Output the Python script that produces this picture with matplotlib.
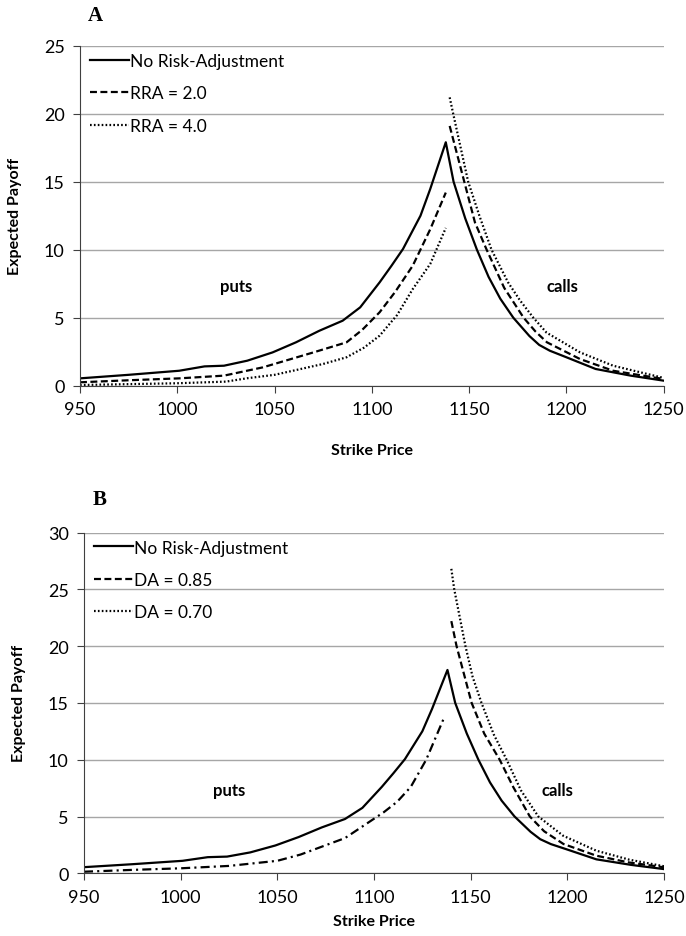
import matplotlib
matplotlib.use("Agg")
import matplotlib.pyplot as plt

plt.rcParams['font.family'] = ['Lato', 'DejaVu Sans']
plt.rcParams['lines.scale_dashes'] = False

# ---- Panel A data ----
strike_base = [950, 975, 1001, 1014, 1024, 1036, 1049, 1061, 1073, 1085, 1094, 1104, 1110, 1116, 1125, 1130, 1138,
               1142, 1148, 1154, 1160, 1166, 1172.7, 1181, 1186, 1191.5, 1200, 1215, 1233, 1250]
payoff_base = [0.54, 0.8, 1.1, 1.42, 1.47, 1.84, 2.45, 3.19, 4.04, 4.78, 5.76, 7.6, 8.8, 10.05, 12.5, 14.46, 17.9,
               15.0, 12.3, 10.0, 8.0, 6.4, 5.0, 3.65, 3.0, 2.57, 2.09, 1.23, 0.74, 0.37]

strike_puts_a = [950, 975, 1001, 1024, 1044, 1070, 1087, 1095, 1104, 1112, 1121, 1130, 1138]
rra2_puts = [0.25, 0.4, 0.54, 0.74, 1.35, 2.45, 3.19, 4.1, 5.4, 6.9, 8.82, 11.5, 14.2]
strike_puts_a4 = [950, 1000, 1025, 1036, 1050, 1061, 1075, 1087, 1096, 1104, 1113, 1121, 1130, 1138]
rra4_puts = [0.05, 0.18, 0.3, 0.55, 0.8, 1.15, 1.6, 2.09, 2.8, 3.68, 5.2, 7.1, 8.95, 11.6]

strike_calls_a2 = [1140, 1147.5, 1153, 1159, 1168, 1178, 1184, 1190, 1207, 1224, 1250]
rra2_calls = [19.1, 15.0, 12.0, 10.0, 7.2, 5.0, 4.0, 3.19, 1.96, 1.1, 0.49]
strike_calls_a4 = [1140, 1141.8, 1149.5, 1155.5, 1161.5, 1170, 1176, 1183, 1189.8, 1207, 1224, 1250]
rra4_calls = [21.2, 20.0, 15.0, 12.4, 10.0, 7.6, 6.3, 5.0, 3.9, 2.45, 1.47, 0.57]

# ---- Panel B data ----
strike_puts_b = [950, 975, 1000, 1025, 1050, 1062, 1085, 1105, 1112, 1119, 1127, 1136]
da_puts = [0.14, 0.3, 0.44, 0.65, 1.1, 1.65, 3.1, 5.37, 6.3, 7.6, 10.0, 13.6]

strike_calls_b85 = [1140, 1142.7, 1150.5, 1157, 1165, 1172, 1180.6, 1188, 1198, 1215, 1232, 1250]
da85_calls = [22.2, 20.0, 15.0, 12.3, 10.0, 7.6, 5.0, 3.7, 2.58, 1.55, 0.95, 0.53]
strike_calls_b70 = [1140, 1141.5, 1147.3, 1151, 1155.6, 1162, 1168.6, 1176, 1185, 1197.8, 1215, 1232, 1250]
da70_calls = [26.8, 25.0, 20.0, 17.3, 15.0, 12.2, 10.0, 7.3, 5.0, 3.31, 1.99, 1.2, 0.62]

x_ticks = [950, 1000, 1050, 1100, 1150, 1200, 1250]

fig = plt.figure(figsize=(6.86, 9.37), dpi=100)

lw = 1.6
dash = (0, (5.0, 2.5))
dot = (0, (1.2, 1.6))
dashdot = (0, (6.5, 3.0, 1.5, 3.0))

def style_axes(ax, ymax, ystep):
    ax.set_xlim(950, 1250)
    ax.set_ylim(0, ymax)
    ax.set_xticks(x_ticks)
    ax.set_yticks(list(range(0, ymax + 1, ystep)))
    ax.yaxis.grid(True, color='#a6a6a6', lw=1.0)
    ax.set_axisbelow(True)
    for s in ['top', 'right']:
        ax.spines[s].set_visible(False)
    ax.spines['left'].set_color('#404040')
    ax.spines['bottom'].set_color('#404040')
    ax.tick_params(axis='both', labelsize=13, direction='out', length=5, color='#404040', pad=6)
    ax.set_ylabel('Expected Payoff', fontsize=11.5, fontweight='bold', labelpad=16)
    ax.set_xlabel('Strike Price', fontsize=11.5, fontweight='bold')

def add_legend(ax):
    ax.legend(loc='upper left', bbox_to_anchor=(0.0, 1.01), frameon=False, fontsize=12.5,
              handlelength=2.2, handletextpad=0.1, labelspacing=0.95, borderaxespad=0.3,
              borderpad=0.3)

# Panel A
axA = fig.add_axes([80 / 686, 1 - 386.7 / 937, (663.7 - 80) / 686, (386.7 - 46.7) / 937])
style_axes(axA, 25, 5)
axA.plot(strike_base, payoff_base, color='black', lw=lw, label='No Risk-Adjustment')
axA.plot(strike_puts_a, rra2_puts, color='black', lw=lw, linestyle=dash, label='RRA = 2.0')
axA.plot(strike_calls_a2, rra2_calls, color='black', lw=lw, linestyle=dash)
axA.plot(strike_puts_a4, rra4_puts, color='black', lw=lw, linestyle=dot, label='RRA = 4.0')
axA.plot(strike_calls_a4, rra4_calls, color='black', lw=lw, linestyle=dot)
axA.text(1030, 7.3, 'puts', fontsize=12, fontweight='bold', ha='center', va='center')
axA.text(1198, 7.3, 'calls', fontsize=12, fontweight='bold', ha='center', va='center')
axA.xaxis.labelpad = 19
add_legend(axA)
fig.text(95 / 686, 1 - 16 / 937, 'A', fontsize=15, fontweight='bold', family='Liberation Serif',
         ha='center', va='center')

# Panel B
axB = fig.add_axes([84 / 686, 1 - 874.3 / 937, (664 - 84) / 686, (874.3 - 533.5) / 937])
style_axes(axB, 30, 5)
axB.plot(strike_base, payoff_base, color='black', lw=lw, label='No Risk-Adjustment')
axB.plot(strike_puts_b, da_puts, color='black', lw=lw, linestyle=dashdot)
axB.plot(strike_calls_b85, da85_calls, color='black', lw=lw, linestyle=dash, label='DA = 0.85')
axB.plot(strike_calls_b70, da70_calls, color='black', lw=lw, linestyle=dot, label='DA = 0.70')
axB.text(1025, 7.3, 'puts', fontsize=12, fontweight='bold', ha='center', va='center')
axB.text(1195, 7.3, 'calls', fontsize=12, fontweight='bold', ha='center', va='center')
axB.xaxis.labelpad = 7
add_legend(axB)
fig.text(100 / 686, 1 - 500 / 937, 'B', fontsize=15, fontweight='bold', family='Liberation Serif',
         ha='center', va='center')

fig.savefig('out.png', dpi=100)
